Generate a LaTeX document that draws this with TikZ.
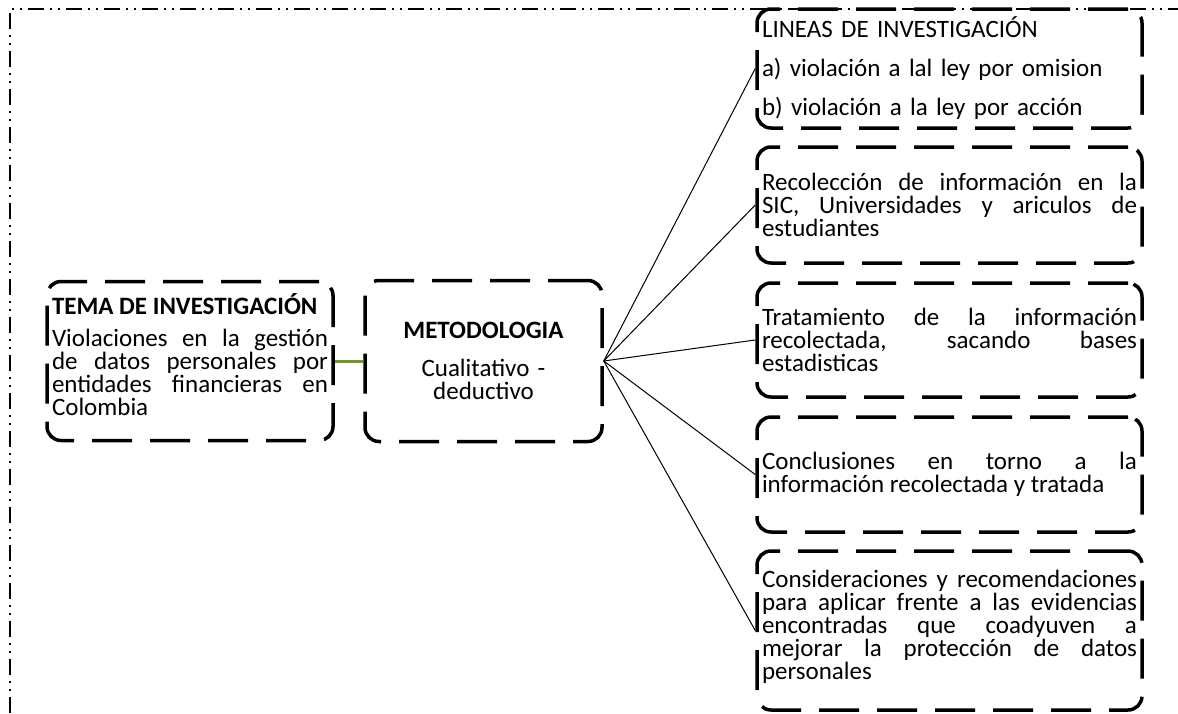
\documentclass[tikz,border=0pt]{standalone}
\usepackage{fontspec}
\setmainfont{Carlito}
\hyphenpenalty=10000
\exhyphenpenalty=10000
\definecolor{verde}{RGB}{118,146,60}
\tikzset{
  caja/.style={draw, line width=3.5pt, dash pattern=on 40pt off 18pt,
    rounded corners=14pt, inner xsep=5pt, inner ysep=0pt,
    font=\fontsize{25}{23}\selectfont},
  marco/.style={line width=1.5pt,
    dash pattern=on 16pt off 6pt on 2pt off 6pt on 2pt off 6pt},
  rama/.style={line width=1pt},
  union/.style={line width=3pt, verde}
}
\begin{document}
\begin{tikzpicture}[x=1pt, y=1pt]
    \useasboundingbox (0,0) rectangle (1178,-713);
    \coordinate (F1) at (10,-713);
    \coordinate (F2) at (10,-9);
    \coordinate (F3) at (1178,-9);
    \draw[marco] (F1) -- (F2) -- (F3);

    \node[caja, text width=276pt, minimum height=159pt, align=justify] (tema) at (190,-361)
        {\textbf{TEMA DE INVESTIGACIÓN}\\[9pt]
         Violaciones en la gestión\linebreak de datos personales por\linebreak entidades financieras en\linebreak Colombia\\[-9pt]};
    \node[caja, text width=227pt, minimum height=161pt, align=center] (met) at (483.5,-361)
        {\textbf{METODOLOGIA}\\[15pt] Cualitativo -\\ deductivo};

    \node[caja, text width=375pt, minimum height=119pt, align=left] (l1) at (949.5,-68.5)
        {LINEAS DE INVESTIGACIÓN\\[16pt] a) violación a lal ley por omision\\[16pt] b) violación a la ley por acción};
    \node[caja, text width=375pt, minimum height=116pt, align=justify] (l2) at (949.5,-205)
        {Recolección de información en la\linebreak SIC, Universidades y ariculos de\linebreak estudiantes};
    \node[caja, text width=375pt, minimum height=114pt, align=justify] (l3) at (949.5,-340)
        {Tratamiento de la información\linebreak recolectada, sacando bases\linebreak estadisticas};
    \node[caja, text width=375pt, minimum height=115pt, align=justify] (l4) at (949.5,-474.5)
        {Conclusiones en torno a la\linebreak información recolectada y tratada};
    \node[caja, text width=375pt, minimum height=159pt, align=justify] (l5) at (949.5,-630.5)
        {Consideraciones y recomendaciones\linebreak para aplicar frente a las evidencias\linebreak encontradas que coadyuven a\linebreak mejorar la protección de datos\linebreak personales\\[-11pt]};

    \draw[union] (tema.east) -- (met.west);
    \draw[rama] (met.east) -- (l1.west);
    \draw[rama] (met.east) -- (l2.west);
    \draw[rama] (met.east) -- (l3.west);
    \draw[rama] (met.east) -- (l4.west);
    \draw[rama] (met.east) -- (l5.west);
\end{tikzpicture}
\end{document}
